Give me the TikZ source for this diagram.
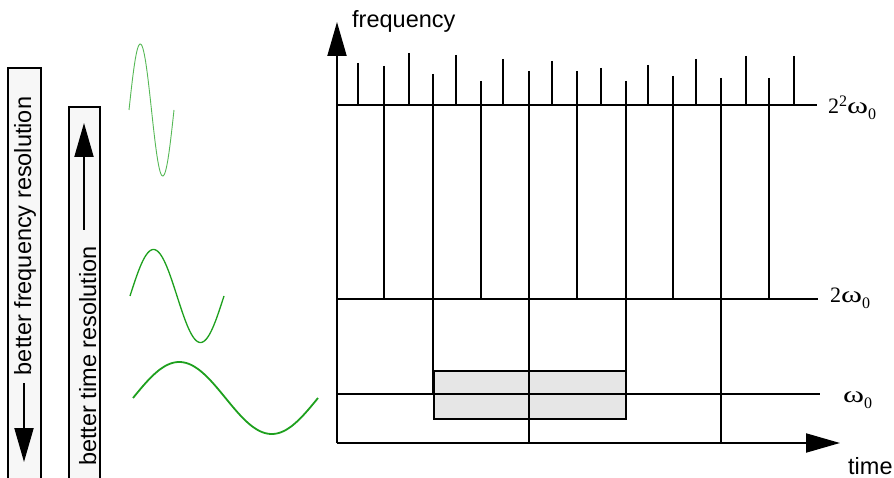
\documentclass[tikz,border=0pt]{standalone}
\usepackage{fontspec}
\usepackage{graphicx}
\usetikzlibrary{arrows.meta}
\newfontfamily\sansfam{Liberation Sans}
\newfontfamily\seriffam{Liberation Serif}
\definecolor{wavegreen}{RGB}{30,160,30}
\definecolor{panelgray}{RGB}{247,247,247}
\definecolor{cellgray}{RGB}{230,230,230}
% small index digits and a wide omega for the level labels
\newcommand{\idx}[1]{{\fontsize{16}{16}\selectfont #1}}
\newcommand{\wom}{\scalebox{1.45}[1.05]{ω}}

\begin{document}
\begin{tikzpicture}[x=1pt,y=-1pt,
  gridline/.style={line width=2pt},
  arrowline/.style={line width=2pt,-{Triangle[length=34pt,width=19pt]}},
  axislabel/.style={font=\sansfam\fontsize{23.5}{28}\selectfont, inner sep=0pt, anchor=base west},
  levellabel/.style={font=\seriffam\fontsize{22}{24}\selectfont, inner sep=0pt, anchor=base west},
  panel/.style={fill=panelgray, draw=black, line width=2pt},
  paneltext/.style={font=\sansfam\fontsize{23.5}{28}\selectfont, rotate=90, inner sep=0pt, anchor=base},
  wave/.style={draw=wavegreen, smooth}
]
\clip (0,0) rectangle (894,478);

% resolution panels on the left
\draw[panel] (8,68) rectangle (41,500);
\draw[panel] (69,107) rectangle (100,500);
\node[paneltext] (freqres) at (31,236) {better frequency resolution};
\node[paneltext] (timeres) at (96,356) {better time resolution};
\coordinate (fdownA) at (24,383);
\coordinate (fdownB) at (24,462);
\draw[arrowline] (fdownA) -- (fdownB);
\coordinate (tupA) at (84,230);
\coordinate (tupB) at (84,123);
\draw[arrowline] (tupA) -- (tupB);

% basis functions at three scales (one period each, phase \t in degrees)
\draw[wave, line width=0.9pt, draw=wavegreen!75]
  plot[variable=\t, domain=0:360, samples=90] ({129+\t/360*45}, {110-66*sin(\t)});
\draw[wave, line width=1.3pt]
  plot[variable=\t, domain=0:360, samples=120] ({130+\t/360*94}, {296-46.5*sin(\t)});
\draw[wave, line width=1.8pt]
  plot[variable=\t, domain=0:360, samples=150] ({133+\t/360*185}, {398-36*sin(\t)});

% highlighted cell
\draw[gridline, fill=cellgray] (434,371) rectangle (626,419);

% axes
\coordinate (origin) at (337,443);
\coordinate (ftip) at (337,22);
\coordinate (ttip) at (840,443);
\draw[arrowline] (origin) -- (ftip);
\draw[arrowline] (origin) -- (ttip);
\node[axislabel] (freqlab) at (352,28) {frequency};
\node[axislabel] (timelab) at (848,474) {time};

% frequency levels
\coordinate (lvA) at (337,105);
\coordinate (lvAe) at (817,105);
\coordinate (lvB) at (337,299);
\coordinate (lvBe) at (818,299);
\coordinate (lvC) at (337,394);
\coordinate (lvCe) at (820,394);
\draw[gridline] (lvA) -- (lvAe);
\draw[gridline] (lvB) -- (lvBe);
\draw[gridline] (lvC) -- (lvCe);
\node[levellabel] (labA) at (828,114) {2\raisebox{7pt}{\idx{2}}\wom\raisebox{-6pt}{\idx{0}}};
\node[levellabel] (labB) at (830,302) {2\wom\raisebox{-6pt}{\idx{0}}};
\node[levellabel] (labC) at (843,402) {\wom\raisebox{-6pt}{\idx{0}}};

% time partitions: x / top / bottom
\foreach \x/\t/\b in {358/63/105, 384/66/299, 409/53/105, 433/74/394,
                      456/55/105, 481/81/299, 503/59/105, 529/71/443,
                      552/61/105, 577/71/299, 601/68/105, 626/81/394,
                      648/65/105, 673/76/299, 696/59/105, 721/78/443,
                      746/56/105, 769/78/299, 794/56/105}
  \draw[gridline] (\x,\t) -- (\x,\b);
\end{tikzpicture}
\end{document}
